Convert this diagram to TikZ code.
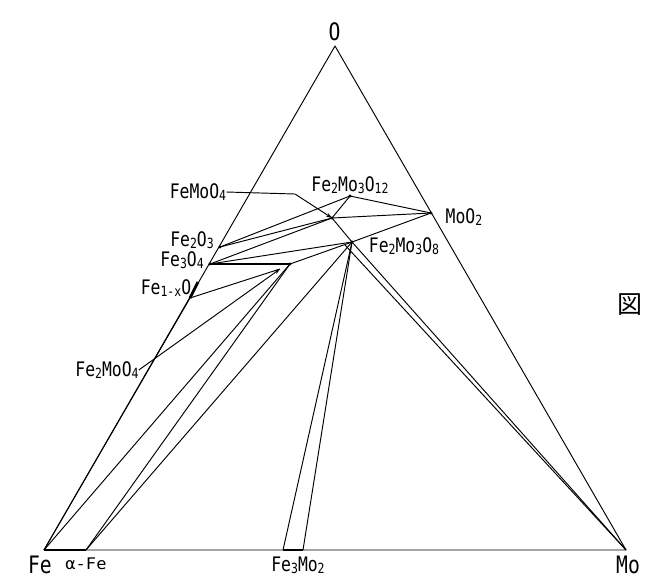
\documentclass[tikz,border=0pt]{standalone}
\usepackage{fontspec}
\usetikzlibrary{arrows.meta}
\newfontfamily\lblfont[FakeStretch=0.82]{DejaVu Sans Mono}
\newfontfamily\cjkfont{Noto Sans CJK JP}
\newcommand{\lsb}[1]{\raisebox{-0.15ex}{\fontsize{14}{14}\selectfont #1}}
\begin{document}
\begin{tikzpicture}[x=1pt,y=-1pt,
  ph/.style={line width=0.95pt,line join=round},
  thk/.style={line width=2.8pt},
  lbl/.style={font=\lblfont\fontsize{20}{20}\selectfont, inner sep=0pt},
  big/.style={font=\lblfont\fontsize{24}{24}\selectfont, inner sep=0pt, anchor=base},
  lead/.style={line width=0.95pt,-{Stealth[length=6pt,width=4pt]}}]
\useasboundingbox (0,0) rectangle (646,579);
\fill[white] (0,0) rectangle (646,579);
% points
\coordinate (O) at (335,46);
\coordinate (Fe) at (44,550);
\coordinate (Mo) at (626,550);
\coordinate (aFe) at (86,550);
\coordinate (F32a) at (283,550);
\coordinate (F32b) at (303,550);
\coordinate (Fe2O3) at (220,247);
\coordinate (Fe3O4) at (210,264);
\coordinate (W1) at (198,282);
\coordinate (Wu) at (190,298);
\coordinate (P) at (290,264);
\coordinate (Q) at (280,269);
\coordinate (FMO) at (332,218);
\coordinate (F2312) at (350,196);
\coordinate (MoO2) at (431,213);
\coordinate (F238) at (352,242);
\coordinate (F238b) at (345,245);
\coordinate (bend) at (295,194);
% triangle
\draw[ph] (O) -- (Fe) -- (Mo) -- cycle;
% thick ranges
\draw[thk] (Fe) -- (aFe);
\draw[thk] (F32a) -- (F32b);
\draw[thk] (Fe3O4) -- (P);
\draw[thk] (W1) -- (Wu);
% tie lines
\draw[ph] (Fe) -- (Wu);
\draw[ph] (Fe) -- (P);
\draw[ph] (aFe) -- (P);
\draw[ph] (aFe) -- (F238);
\draw[ph] (Wu) -- (Q);
\draw[ph] (F238) -- (F32a);
\draw[ph] (F238) -- (F32b);
\draw[ph] (F238) -- (P);
\draw[ph] (F238) -- (Fe3O4);
\draw[ph] (F238) -- (MoO2);
\draw[ph] (FMO) -- (F238) -- (Mo);
\draw[ph] (F238b) -- (Mo);
\draw[ph] (FMO) -- (Fe2O3);
\draw[ph] (FMO) -- (Fe3O4);
\draw[ph] (FMO) -- (F2312);
\draw[ph] (FMO) -- (MoO2);
\draw[ph] (F2312) -- (Fe2O3);
\draw[ph] (F2312) -- (MoO2);
% point marks
\foreach \p in {Fe2O3,Fe3O4,P,FMO,F2312,MoO2,F238}
  \fill (\p) circle (1.7pt);
% labels
\node[big] (lO) at (334.5,40) {O};
\node[big] (lFe) at (40,573) {Fe};
\node[big] (lMo) at (628,573) {Mo};
\node[lbl,font=\lblfont\fontsize{16}{16}\selectfont] (laFe) at (86,564) {\scalebox{1.3}[1]{α-Fe}};
\node[lbl] (lF32) at (298,565) {Fe\lsb{3}Mo\lsb{2}};
\node[lbl] (lFMO) at (198,192) {FeMoO\lsb{4}};
\node[lbl] (lF2312) at (350,185) {Fe\lsb{2}Mo\lsb{3}O\lsb{12}};
\node[lbl] (lMoO2) at (464,217) {MoO\lsb{2}};
\node[lbl] (lFe2O3) at (192,240) {Fe\lsb{2}O\lsb{3}};
\node[lbl] (lFe3O4) at (182,260) {Fe\lsb{3}O\lsb{4}};
\node[lbl] (lF238) at (404,246) {Fe\lsb{2}Mo\lsb{3}O\lsb{8}};
\node[lbl] (lW) at (166,288) {Fe\lsb{1-x}O};
\node[lbl] (lF2MO4) at (107,370) {Fe\lsb{2}MoO\lsb{4}};
\node[font=\cjkfont\fontsize{25}{25}\selectfont,inner sep=0pt] (lzu) at (630,305) {図};
% leaders
\draw[lead] (lFMO.east) -- (bend) -- (FMO);
\draw[lead] (lF2MO4.east) -- (Q);
\end{tikzpicture}
\end{document}
